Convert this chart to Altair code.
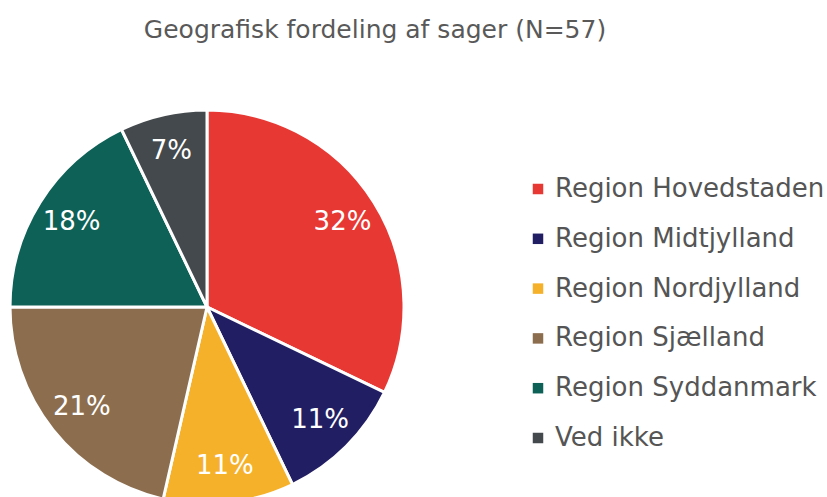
import altair as alt
import pandas as pd

regions = ["Region Hovedstaden", "Region Midtjylland", "Region Nordjylland",
           "Region Sjælland", "Region Syddanmark", "Ved ikke"]
counts = [18, 6, 6, 12, 10, 4]
labels = ["32%", "11%", "11%", "21%", "18%", "7%"]
colors = ["#E73834", "#221E63", "#F6B12A", "#8C6E4F", "#0E6157", "#43494C"]
title = "Geografisk fordeling af sager (N=57)"

FONT = "DejaVu Sans"

df = pd.DataFrame({"region": regions, "count": counts, "label": labels,
                   "order": list(range(len(regions)))})

base = alt.Chart(df).encode(
    theta=alt.Theta("count:Q", stack=True),
    order=alt.Order("order:Q"),
    x=alt.value(207), y=alt.value(307),
)

arcs = base.mark_arc(radius=197, stroke="white", strokeWidth=3).encode(
    color=alt.Color("region:N",
                    scale=alt.Scale(domain=regions, range=colors),
                    sort=regions,
                    legend=alt.Legend(title=None, orient="none", legendX=525, legendY=176,
                                      symbolType="square", symbolSize=110,
                                      symbolStrokeWidth=0,
                                      labelFont=FONT, labelFontSize=26,
                                      labelColor="#555555", rowPadding=23.8,
                                      labelOffset=4, labelLimit=400))
)

text = base.mark_text(radius=160, font=FONT, fontSize=26, color="white").encode(
    text="label:N"
)

ttl = alt.Chart(pd.DataFrame({"t": [title]})).mark_text(
    font=FONT, fontSize=25, color="#595959", align="center", baseline="middle"
).encode(text="t:N", x=alt.value(375), y=alt.value(30))

chart = alt.layer(arcs, text, ttl).properties(
    width=827, height=497, autosize="none", padding=0
).configure_view(stroke=None)

chart.save("out.html", embed_options={"renderer": "svg", "actions": False})
